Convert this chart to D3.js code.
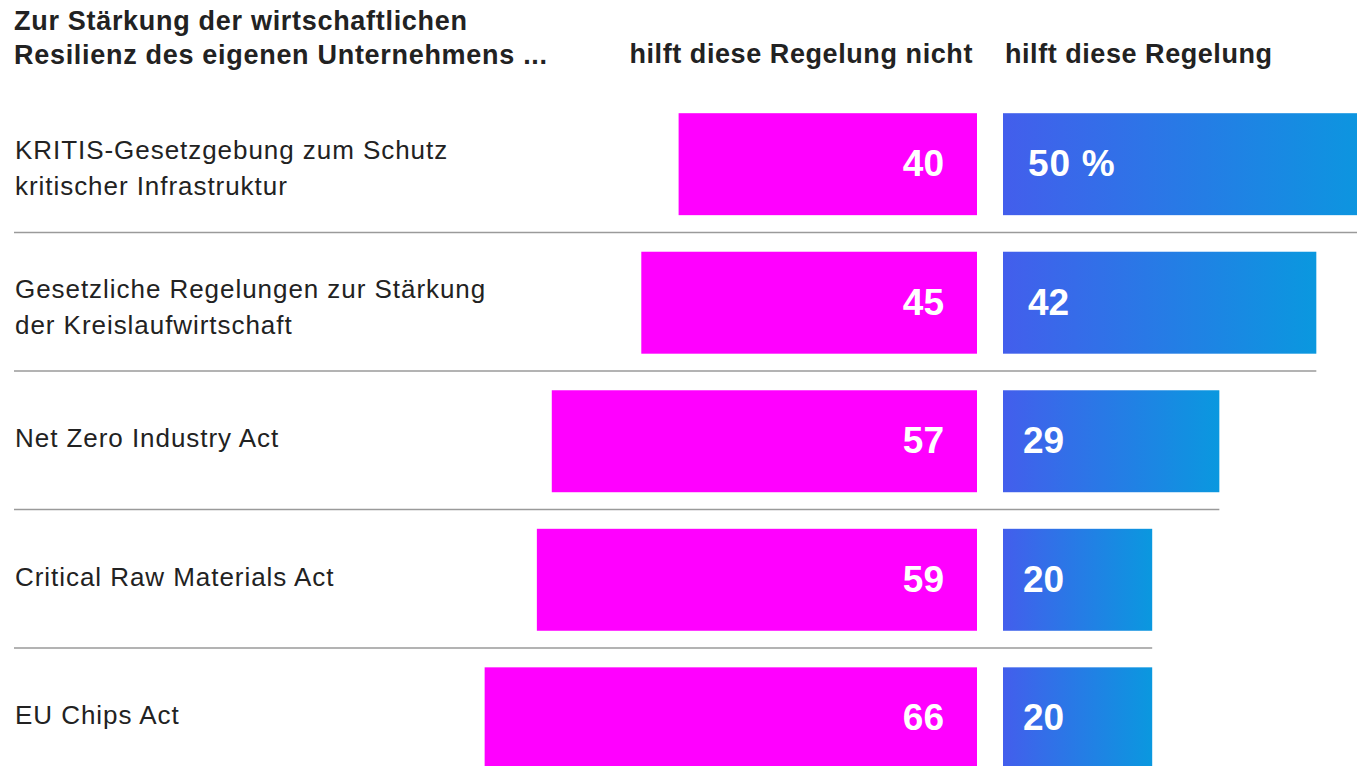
<!DOCTYPE html>
<html>
<head>
<meta charset="utf-8">
<script src="https://cdnjs.cloudflare.com/ajax/libs/d3/7.8.5/d3.min.js"></script>
<style>
  body { margin: 0; background: #fff; }
  svg { display: block; font-family: "Liberation Sans", Arial, sans-serif; }
</style>
</head>
<body>
<div id="container"></div>
<script>
/* Data */
var categories = [
	["KRITIS-Gesetzgebung zum Schutz", "kritischer Infrastruktur"],
	["Gesetzliche Regelungen zur Stärkung", "der Kreislaufwirtschaft"],
	["Net Zero Industry Act"],
	["Critical Raw Materials Act"],
	["EU Chips Act"]
];
var notHelping = [40, 45, 57, 59, 66];
var helping = [50, 42, 29, 20, 20];
var titleLines = ["Zur Stärkung der wirtschaftlichen", "Resilienz des eigenen Unternehmens ..."];
var seriesNames = ["hilft diese Regelung nicht", "hilft diese Regelung"];

var w = 1357, h = 766;
var rows = categories.map((c, i) => ({ id: i, label: c, no: notHelping[i], yes: helping[i] }));

var svg = d3.select("#container").append("svg")
	.attr("width", w)
	.attr("height", h);

/* gradient for the blue bars */
var grad = svg.append("defs").append("linearGradient")
	.attr("id", "blueGrad")
	.attr("x1", "0%").attr("x2", "100%")
	.attr("y1", "0%").attr("y2", "0%");
grad.append("stop").attr("offset", "0%").attr("stop-color", "#435eec");
grad.append("stop").attr("offset", "100%").attr("stop-color", "#0a98df");

/* Scales */
var unit = 7.46;
var yScale = d3.scaleBand()
	.domain(rows.map(d => d.id))
	.range([94.5, 788])
	.paddingInner(0.264)
	.paddingOuter(0.135);

var leftScale = d3.scaleLinear()
	.domain([0, 100])
	.range([977, 977 - 100 * unit]);
var rightScale = d3.scaleLinear()
	.domain([0, 100])
	.range([1003, 1003 + 100 * unit]);

/* Header */
svg.append("g").selectAll("text")
	.data(titleLines)
	.join("text")
	.attr("x", 14)
	.attr("y", (d, i) => 30 + i * 34)
	.attr("font-size", 27)
	.attr("font-weight", "bold")
	.attr("letter-spacing", 0.7)
	.attr("fill", "#222")
	.text(d => d);

svg.append("text")
	.attr("x", 973)
	.attr("y", 63)
	.attr("text-anchor", "end")
	.attr("font-size", 27)
	.attr("font-weight", "bold")
	.attr("letter-spacing", 0.58)
	.attr("fill", "#222")
	.text(seriesNames[0]);

svg.append("text")
	.attr("x", 1005)
	.attr("y", 63)
	.attr("font-size", 27)
	.attr("font-weight", "bold")
	.attr("letter-spacing", 0.55)
	.attr("fill", "#222")
	.text(seriesNames[1]);

/* Separator lines - run to end of blue bar above */
var step = yScale.step(), bw = yScale.bandwidth();
svg.append("g").selectAll("line")
	.data(rows.slice(0, rows.length - 1))
	.join("line")
	.attr("x1", 14)
	.attr("x2", d => Math.min(w, rightScale(d.yes)))
	.attr("y1", d => yScale(d.id) + bw + (step - bw) / 2 - 1)
	.attr("y2", d => yScale(d.id) + bw + (step - bw) / 2 - 1)
	.attr("stroke", "#9a9a9a")
	.attr("stroke-width", 1.5);

/* Rows */
var row = svg.append("g").selectAll("g")
	.data(rows)
	.join("g")
	.attr("transform", d => "translate(0," + yScale(d.id) + ")");

// category labels
row.append("text")
	.attr("font-size", 26)
	.attr("letter-spacing", 0.95)
	.attr("fill", "#222")
	.selectAll("tspan")
	.data(d => d.label.map((t, i) => ({ t: t, i: i, n: d.label.length })))
	.join("tspan")
	.attr("x", 15)
	.attr("y", d => bw / 2 + (d.n > 1 ? 13 : 6) + (d.i - (d.n - 1) / 2) * 36)
	.text(d => d.t);

// left bars
row.append("rect")
	.attr("x", d => leftScale(d.no))
	.attr("y", 0)
	.attr("width", d => leftScale(0) - leftScale(d.no))
	.attr("height", bw)
	.attr("fill", "#ff00ff");

row.append("text")
	.attr("x", leftScale(0) - 33)
	.attr("y", 63)
	.attr("text-anchor", "end")
	.attr("font-size", 37)
	.attr("font-weight", "bold")
	.attr("fill", "#fff")
	.text(d => d.no);

// right bars
row.append("rect")
	.attr("x", rightScale(0))
	.attr("y", 0)
	.attr("width", d => rightScale(d.yes) - rightScale(0))
	.attr("height", bw)
	.attr("fill", "url(#blueGrad)");

row.append("text")
	.attr("x", d => rightScale(0) + (d.id < 2 ? 25 : 20))
	.attr("y", 63)
	.attr("font-size", 37)
	.attr("font-weight", "bold")
	.attr("letter-spacing", d => d.id === 0 ? 0.8 : 0)
	.attr("fill", "#fff")
	.text(d => d.id === 0 ? d.yes + " %" : d.yes);
</script>
</body>
</html>
